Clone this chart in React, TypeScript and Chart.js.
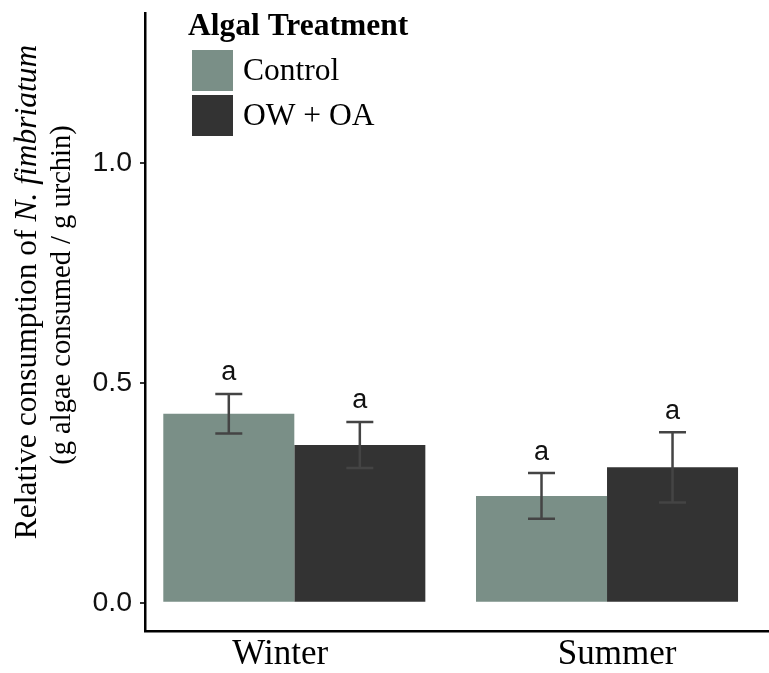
import { useEffect, useRef } from "react";
import { Chart, registerables } from "chart.js";

Chart.register(...registerables);

// Feeding trial: mean relative consumption with standard errors
const seasons = ["Winter", "Summer"];
const treatments = ["Control", "OW + OA"];
const controlMeans = [0.43, 0.243];
const controlSE = [0.045, 0.052];
const owMeans = [0.359, 0.308];
const owSE = [0.0525, 0.08];
const controlLetters = ["a", "a"];
const owLetters = ["a", "a"];
const yTicks = [0, 0.5, 1.0];
const seasonPos = [1, 2];
// where the season names sit along the x axis
const seasonLabelPos = [0.955, 2.032];

const Y_MIN = -0.0644;
const Y_MAX = 1.342;
const X_MIN = 0.5225;
const X_MAX = 2.518;

const COLORS = ["#7a8f87", "#333333"];
const SERIF = '"Liberation Serif", "Times New Roman", serif';
const SANS = '"Liberation Sans", Arial, Helvetica, sans-serif';

const legendTitle = "Algal Treatment";
const yTitleMain = "Relative consumption of ";
const yTitleItalic = "N. fimbriatum";
const yTitleSub = "(g algae consumed / g urchin)";

const errorBarPlugin = {
  id: "errorBars",
  afterDatasetsDraw(chart: any) {
    const ctx = chart.ctx;
    const y = chart.scales.y;
    chart.data.datasets.forEach((ds: any, i: number) => {
      const meta = chart.getDatasetMeta(i);
      meta.data.forEach((bar: any, j: number) => {
        const mean = ds.data[j].y;
        const se = ds.errors[j];
        const x = bar.x;
        const top = y.getPixelForValue(mean + se);
        const bot = y.getPixelForValue(mean - se);
        const half = 13.5;
        ctx.save();
        ctx.strokeStyle = "#444444";
        ctx.lineWidth = 2.5;
        ctx.beginPath();
        ctx.moveTo(x, top);
        ctx.lineTo(x, bot);
        ctx.moveTo(x - half, top);
        ctx.lineTo(x + half, top);
        ctx.moveTo(x - half, bot);
        ctx.lineTo(x + half, bot);
        ctx.stroke();
        ctx.fillStyle = "#111111";
        ctx.font = `27px ${SANS}`;
        ctx.textAlign = "center";
        ctx.textBaseline = "alphabetic";
        ctx.fillText(ds.letters[j], x, top - 13.5);
        ctx.restore();
      });
    });
  },
};

const annotationPlugin = {
  id: "legendAndTitle",
  afterDraw(chart: any) {
    const ctx = chart.ctx;
    ctx.save();

    // y-axis title, two lines, rotated
    const cy = 292;
    ctx.save();
    ctx.translate(36, cy);
    ctx.rotate(-Math.PI / 2);
    ctx.fillStyle = "#000000";
    ctx.textBaseline = "alphabetic";
    ctx.textAlign = "left";
    const fMain = `31.5px ${SERIF}`;
    const fItal = `italic 31.5px ${SERIF}`;
    ctx.font = fMain;
    const w1 = ctx.measureText(yTitleMain).width;
    ctx.font = fItal;
    const w2 = ctx.measureText(yTitleItalic).width;
    const start = -(w1 + w2) / 2;
    ctx.font = fMain;
    ctx.fillText(yTitleMain, start, 0);
    ctx.font = fItal;
    ctx.fillText(yTitleItalic, start + w1, 0);
    ctx.font = `28.5px ${SERIF}`;
    ctx.textAlign = "center";
    ctx.fillText(yTitleSub, -3, 34);
    ctx.restore();

    // legend
    ctx.fillStyle = "#000000";
    ctx.textAlign = "left";
    ctx.textBaseline = "alphabetic";
    ctx.font = `bold 31.5px ${SERIF}`;
    ctx.fillText(legendTitle, 188, 35);
    const boxX = 192;
    const boxSize = 41;
    const boxTops = [50, 95];
    ctx.font = `31.5px ${SERIF}`;
    chart.data.datasets.forEach((ds: any, i: number) => {
      ctx.fillStyle = ds.backgroundColor;
      ctx.fillRect(boxX, boxTops[i], boxSize, boxSize);
      ctx.fillStyle = "#000000";
      ctx.textBaseline = "middle";
      ctx.fillText(ds.label, 243, boxTops[i] + boxSize / 2 + 1);
    });
    ctx.restore();
  },
};

export default function App() {
  const canvasRef = useRef<HTMLCanvasElement | null>(null);

  useEffect(() => {
    if (!canvasRef.current) return;
    const chart = new Chart(canvasRef.current, {
      type: "bar",
      data: {
        datasets: [
          {
            label: treatments[0],
            data: controlMeans.map((v, i) => ({ x: seasonPos[i], y: v })),
            backgroundColor: COLORS[0],
            borderWidth: 0,
            errors: controlSE,
            letters: controlLetters,
          } as any,
          {
            label: treatments[1],
            data: owMeans.map((v, i) => ({ x: seasonPos[i], y: v })),
            backgroundColor: COLORS[1],
            borderWidth: 0,
            errors: owSE,
            letters: owLetters,
          } as any,
        ],
      },
      options: {
        responsive: false,
        animation: false,
        layout: { padding: { top: 13, right: 0, bottom: 0, left: 0 } },
        datasets: {
          bar: { categoryPercentage: 0.838, barPercentage: 1 },
        },
        plugins: {
          legend: { display: false },
          tooltip: { enabled: false },
          title: { display: false },
        },
        scales: {
          x: {
            type: "linear",
            min: X_MIN,
            max: X_MAX,
            offset: false,
            afterBuildTicks: (scale: any) => {
              scale.ticks = seasonLabelPos.map((v) => ({ value: v }));
            },
            afterFit: (scale: any) => {
              scale.height = 42;
              scale.paddingLeft = 0;
              scale.paddingRight = 0;
            },
            grid: { display: false, drawTicks: false },
            border: { display: true, color: "#000000", width: 2.5 },
            ticks: {
              padding: 3,
              color: "#000000",
              font: { family: SERIF, size: 35 },
              callback: (_v: any, idx: number) => seasons[idx] ?? "",
            },
          },
          y: {
            type: "linear",
            min: Y_MIN,
            max: Y_MAX,
            afterBuildTicks: (scale: any) => {
              scale.ticks = yTicks.map((v) => ({ value: v }));
            },
            afterFit: (scale: any) => {
              scale.width = 145;
              scale.paddingTop = 0;
              scale.paddingBottom = 0;
            },
            grid: {
              display: true,
              drawOnChartArea: false,
              drawTicks: true,
              tickLength: 5,
              color: "#333333",
              lineWidth: 2,
            },
            border: { display: true, color: "#000000", width: 2.5 },
            ticks: {
              padding: 8,
              color: "#111111",
              font: { family: SANS, size: 28.5 },
              callback: (v: any) => Number(v).toFixed(1),
            },
          },
        },
      } as any,
      plugins: [errorBarPlugin, annotationPlugin],
    });
    return () => chart.destroy();
  }, []);

  return (
    <div style={{ position: "absolute", left: 0, top: 0, width: 769, height: 673, background: "#ffffff" }}>
      <canvas ref={canvasRef} width={769} height={673} />
    </div>
  );
}
